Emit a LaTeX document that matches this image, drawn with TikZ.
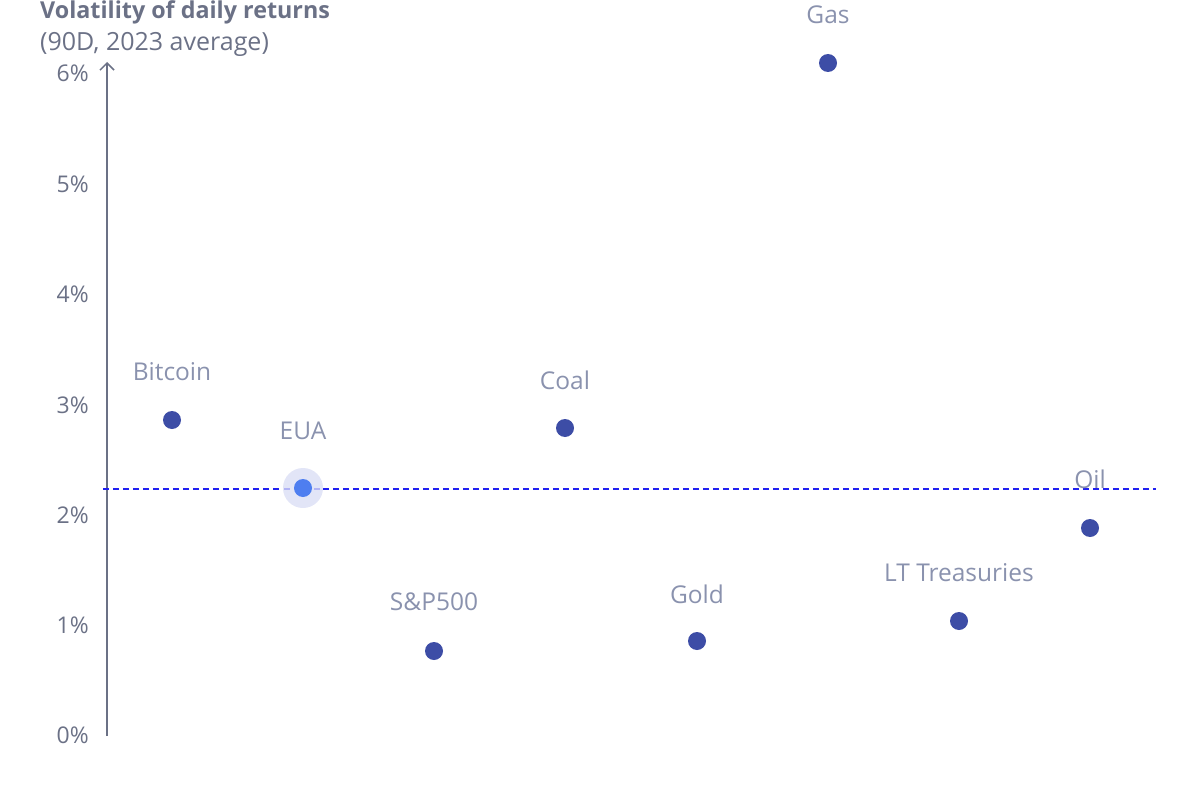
\documentclass[tikz,border=0pt]{standalone}
\usepackage{fontspec}
\setmainfont{Open Sans}
\usetikzlibrary{arrows.meta}
\definecolor{axisc}{HTML}{6B7186}
\definecolor{labc}{HTML}{8A92AE}
\definecolor{dotc}{HTML}{3D4DA6}
\definecolor{euac}{HTML}{4E7EF0}
\definecolor{haloc}{HTML}{E2E5F7}
\definecolor{refc}{HTML}{2020F0}
\tikzset{
  tick/.style={anchor=east, text=axisc, font=\fontsize{23}{27}\selectfont, inner sep=0pt},
  dot/.style={circle, fill=dotc, minimum size=18pt, inner sep=0pt},
  lab/.style={text=labc, font=\fontsize{24.5}{28}\selectfont, inner sep=0pt, anchor=center},
}
\begin{document}
\begin{tikzpicture}[x=1pt,y=-1pt]
\useasboundingbox (0,0) rectangle (1192,800);
% title
\node[anchor=west, text=axisc, inner sep=0pt, font=\fontsize{23.3}{28}\selectfont\bfseries] (title) at (40,12) {Volatility of daily returns};
\node[anchor=west, text=axisc, inner sep=0pt, font=\fontsize{25}{30}\selectfont] (sub) at (40,44) {(90D, 2023 average)};
% axis
\coordinate (ax0) at (107,736);
\coordinate (ax1) at (107,62);
\draw[axisc, line width=1.5pt, -{Straight Barb[length=7pt,width=14pt,line width=1.5pt]}] (ax0) -- (ax1);
% ticks
\foreach \v/\y in {0/735,1/625,2/515,3/405,4/294,5/184,6/73}{
  \node[tick] (t\v) at (89,\y) {\v\%};
}
% reference line
\coordinate (r0) at (103,489);
\coordinate (r1) at (1156,489);
\draw[refc, line width=1.8pt, dash pattern=on 6pt off 4pt] (r0) -- (r1);
% points
\node[dot] (btc) at (172,420) {};
\node[lab] (lbtc) at (172,372) {Bitcoin};
\node[circle, fill=haloc, minimum size=40pt, inner sep=0pt] (euah) at (303,488) {};
\draw[refc, line width=1.8pt, dash pattern=on 6pt off 4pt, opacity=0.25] (284,489) -- (322,489);
\node[circle, fill=euac, minimum size=18pt, inner sep=0pt] (eua) at (303,488) {};
\node[lab] (leua) at (303,431) {EUA};
\node[dot] (spx) at (434,651) {};
\node[lab] (lspx) at (434,602) {S\&P500};
\node[dot] (coal) at (565,428) {};
\node[lab] (lcoal) at (565,380) {Coal};
\node[dot] (gold) at (697,641) {};
\node[lab] (lgold) at (697,594) {Gold};
\node[dot] (gas) at (828,63) {};
\node[lab] (lgas) at (828,15) {Gas};
\node[dot] (lt) at (959,621) {};
\node[lab] (llt) at (959,573) {LT Treasuries};
\node[dot] (oil) at (1090,528) {};
\node[lab] (loil) at (1090,479) {Oil};
\end{tikzpicture}
\end{document}
